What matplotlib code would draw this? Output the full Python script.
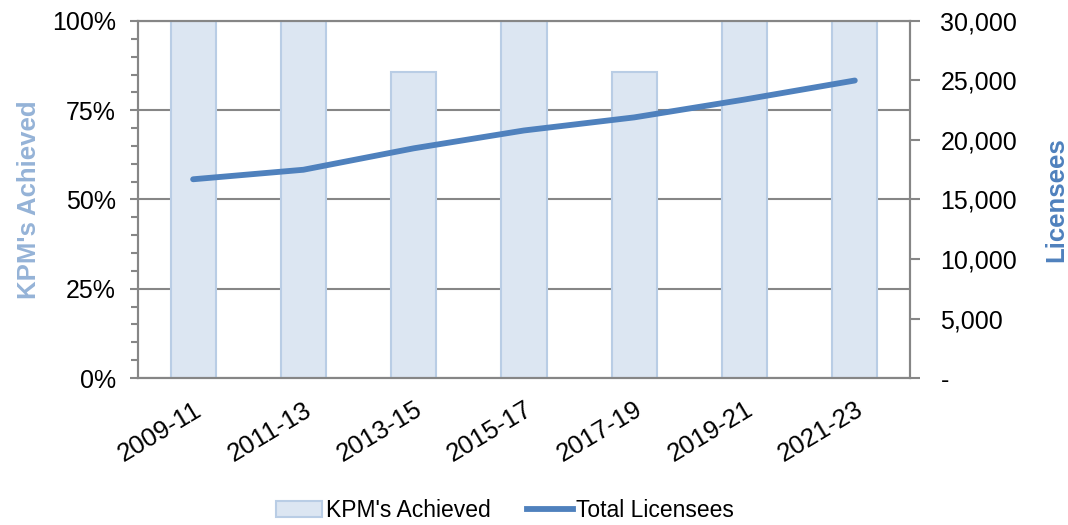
import matplotlib.pyplot as plt
from matplotlib.ticker import FuncFormatter, MultipleLocator
from matplotlib.patches import Patch
from matplotlib.lines import Line2D

plt.rcParams["font.family"] = ["Liberation Sans", "DejaVu Sans"]

# data
periods = ["2009-11", "2011-13", "2013-15", "2015-17", "2017-19", "2019-21", "2021-23"]
kpm_achieved = [100, 100, 85.7, 100, 85.7, 100, 100]  # percent
total_licensees = [16700, 17500, 19300, 20800, 21900, 23400, 25000]

bar_fill = "#DCE6F2"
bar_edge = "#B9CDE5"
line_blue = "#4F81BD"
axis_gray = "#868686"

fig = plt.figure(figsize=(10.68, 5.25), dpi=100)
ax = fig.add_axes([0.1292, 0.28, 0.7228, 0.68])
x = range(len(periods))

ax.bar(x, kpm_achieved, width=0.41, color=bar_fill, edgecolor=bar_edge, linewidth=1.5, zorder=2)
ax.set_xlim(-0.5, len(periods) - 0.5)
ax.set_ylim(0, 100)
ax.yaxis.set_major_locator(MultipleLocator(25))
ax.yaxis.set_minor_locator(MultipleLocator(5))
ax.yaxis.set_major_formatter(FuncFormatter(lambda v, p: f"{v:.0f}%"))
ax.grid(axis="y", color=axis_gray, linewidth=1.5, zorder=1)
ax.set_axisbelow(True)
ax.set_xticks(list(x))
ax.set_xticklabels(periods, rotation=31, ha="right", rotation_mode="anchor")
ax.tick_params(axis="x", length=0, labelsize=18.5, pad=14)
ax.tick_params(axis="y", which="both", direction="out", color=axis_gray, width=1.5, labelsize=18, pad=10)
ax.tick_params(axis="y", which="major", length=6)
ax.tick_params(axis="y", which="minor", length=5)
ax.set_ylabel("KPM's Achieved", color="#95B3D7", fontsize=18.5, fontweight="bold", labelpad=8)
for side in ["left", "bottom", "top", "right"]:
    ax.spines[side].set_color(axis_gray)
    ax.spines[side].set_linewidth(1.5)

ax2 = ax.twinx()
ax2.plot(x, total_licensees, color=line_blue, linewidth=4.2, solid_capstyle="round", zorder=3)
ax2.set_ylim(0, 30000)
ax2.yaxis.set_major_locator(MultipleLocator(5000))
ax2.yaxis.set_major_formatter(FuncFormatter(lambda v, p: "-" if v == 0 else f"{v:,.0f}"))
ax2.tick_params(axis="y", direction="out", color=axis_gray, width=1.5, length=7, labelsize=18, pad=15)
ax2.set_ylabel("Licensees", color=line_blue, fontsize=18.5, fontweight="bold", labelpad=19)
for side in ["left", "bottom", "top", "right"]:
    ax2.spines[side].set_color(axis_gray)
    ax2.spines[side].set_linewidth(1.5)

handles = [
    Patch(facecolor=bar_fill, edgecolor=bar_edge, linewidth=1.5),
    Line2D([0], [0], color=line_blue, linewidth=4.2),
]
fig.legend(handles, ["KPM's Achieved", "Total Licensees"], loc="center", bbox_to_anchor=(0.473, 0.028),
           ncol=2, frameon=False, fontsize=16.5, handlelength=2.0, handletextpad=0.15, columnspacing=1.6)

fig.savefig("out.png", dpi=100)
